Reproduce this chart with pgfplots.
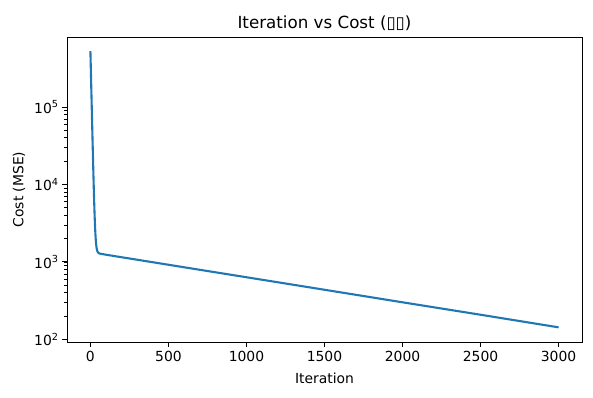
\documentclass[border=0pt]{standalone}
\usepackage{fontspec}
\setmainfont{DejaVu Sans}
\usepackage{pgfplots}
\pgfplotsset{compat=1.18}
\definecolor{mplblue}{HTML}{1F77B4}
\begin{document}
\begin{tikzpicture}[x=1pt,y=1pt]
\path[use as bounding box] (-67,-55) rectangle (526,342);
\begin{axis}[
  at={(0,0)}, anchor=south west,
  width=515pt, height=305pt, scale only axis,
  xmin=-150, xmax=3150,
  ymode=log, ymin=92.5, ymax=8.0e5,
  axis line style={line width=0.9pt},
  tick align=outside, xtick pos=left, ytick pos=left,
  major tick length=4.9pt, minor tick length=2.8pt,
  every tick/.style={black, line width=0.9pt},
  minor tick style={line width=0.7pt},
  xtick={0,500,1000,1500,2000,2500,3000},
  ytick={100,1000,10000,100000},
  yticklabels={10\textsuperscript{2},10\textsuperscript{3},10\textsuperscript{4},10\textsuperscript{5}},
  /pgf/number format/assume math mode=true,
  /pgf/number format/1000 sep={},
  ticklabel style={font=\fontsize{13.9}{16}\selectfont},
  xticklabel style={yshift=-1pt},
  label style={font=\fontsize{13.9}{16}\selectfont},
  xlabel={Iteration},
  ylabel={Cost (MSE)},
  title={Iteration vs Cost (▯▯)},
  title style={font=\fontsize{16.7}{19}\selectfont, yshift=-3pt},
  xlabel style={yshift=-4pt},
  ylabel style={yshift=2pt},
]
\addplot[mplblue, line width=2.1pt, line join=round] coordinates {
(0,526141) (2,356145) (4,241213) (6,163509) (8,110974) (10,75455)
(12,51441) (14,35204) (16,24227) (18,16804) (20,11785) (22,8391)
(24,6096) (26,4544) (28,3494) (30,2783) (32,2302) (34,1976)
(36,1755) (38,1605) (40,1503) (43,1408) (46,1354) (50,1316)
(55,1292) (60,1281) (100,1238) (250,1107) (500,919) (750,763)
(1000,634) (1500,437) (2000,301) (2500,208) (3000,143)
};
\end{axis}
\end{tikzpicture}
\end{document}
